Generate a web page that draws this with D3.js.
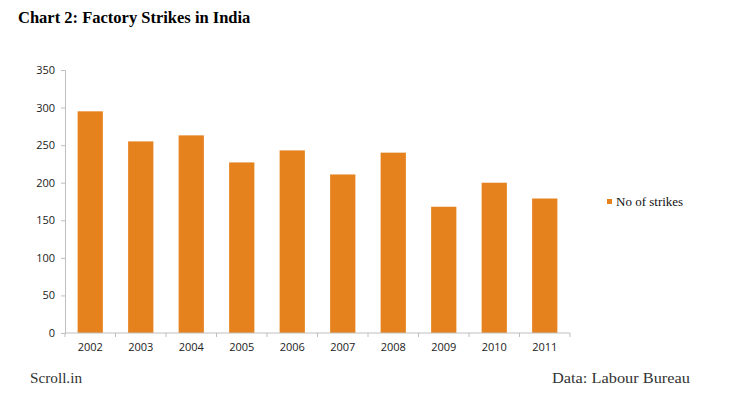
<!DOCTYPE html>
<html><head><meta charset="utf-8">
<script src="https://cdn.jsdelivr.net/npm/d3@7"></script>
<style>body{margin:0;background:#fff}svg{display:block}</style>
</head><body>
<script>
const years = ["2002","2003","2004","2005","2006","2007","2008","2009","2010","2011"];
const strikes = [295, 255, 263, 227, 243, 211, 240, 168, 200, 179];
const yTicks = [0, 50, 100, 150, 200, 250, 300, 350];
const seriesName = "No of strikes";
const title = "Chart 2: Factory Strikes in India";
const sourceLeft = "Scroll.in";
const sourceRight = "Data: Labour Bureau";

const W = 753, H = 397;
const color = "#E6821E", axisColor = "#BFBFBF";
const svg = d3.select("body").append("svg").attr("width", W).attr("height", H);

const x = d3.scaleBand().domain(years).range([65, 570]).paddingInner(0.5).paddingOuter(0.25);
const y = d3.scaleLinear().domain([0, 350]).range([333, 70]);

svg.append("text").attr("x", 18).attr("y", 23)
  .attr("font-family", "Liberation Serif, Times New Roman, serif")
  .attr("font-weight", "bold").attr("font-size", 16.5).attr("fill", "#000").text(title);

svg.selectAll("rect.bar").data(years).join("rect").attr("class", "bar")
  .attr("x", d => x(d)).attr("width", x.bandwidth())
  .attr("y", (d, i) => y(strikes[i])).attr("height", (d, i) => y(0) - y(strikes[i]))
  .attr("fill", color);

// y axis
const ya = svg.append("g").attr("transform", "translate(65,0)")
  .call(d3.axisLeft(y).tickValues(yTicks).tickSize(4).tickPadding(6));
ya.select(".domain").attr("stroke", axisColor);
ya.selectAll(".tick line").attr("stroke", axisColor);
ya.selectAll("text").attr("font-family", "Open Sans, Liberation Sans, sans-serif")
  .attr("font-size", 11).attr("fill", "#222");

// x axis
const xa = svg.append("g").attr("transform", "translate(0,333)")
  .call(d3.axisBottom(x).tickSize(0).tickPadding(10));
xa.select(".domain").attr("stroke", axisColor).attr("d", "M65,0H570");
xa.selectAll("text").attr("font-family", "Open Sans, Liberation Sans, sans-serif")
  .attr("font-size", 11).attr("fill", "#222");
const bounds = years.map((d, i) => 65 + i * x.step()).concat([570]);
svg.append("g").selectAll("line").data(bounds).join("line")
  .attr("x1", d => d).attr("x2", d => d).attr("y1", 333).attr("y2", 337)
  .attr("stroke", axisColor);

// legend
svg.append("rect").attr("x", 607).attr("y", 199).attr("width", 5).attr("height", 5).attr("fill", color);
svg.append("text").attr("x", 616).attr("y", 206)
  .attr("font-family", "Liberation Serif, serif").attr("font-size", 13).attr("fill", "#111").text(seriesName);

// footer
svg.append("text").attr("x", 30).attr("y", 383)
  .attr("font-family", "Liberation Serif, serif").attr("font-size", 15).attr("fill", "#333")
  .attr("textLength", 52).attr("lengthAdjust", "spacingAndGlyphs").text(sourceLeft);
svg.append("text").attr("x", 552).attr("y", 383)
  .attr("font-family", "Liberation Serif, serif").attr("font-size", 15).attr("fill", "#333")
  .attr("textLength", 138).attr("lengthAdjust", "spacingAndGlyphs").text(sourceRight);
</script>
</body></html>
